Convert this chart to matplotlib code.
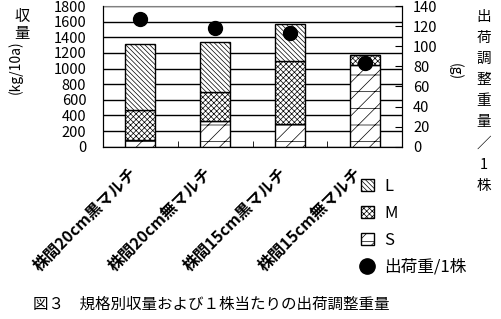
import matplotlib.pyplot as plt
from matplotlib.patches import Patch
from matplotlib.lines import Line2D

plt.rcParams['font.family'] = ['Noto Sans CJK JP', 'DejaVu Sans']
plt.rcParams['hatch.linewidth'] = 0.5

# data
categories = ['株間20cm黒マルチ', '株間20cm無マルチ', '株間15cm黒マルチ', '株間15cm無マルチ']
yield_S = [86, 325, 286, 1041]
yield_M = [384, 375, 806, 128]
yield_L = [840, 635, 474, 0]
weight_per_plant = [126.8, 118.4, 112.8, 83.0]

hatch_L = '\\\\\\\\\\\\\\'
hatch_M = 'xxxxxx'
hatch_S = '//-'

fig = plt.figure(figsize=(5.01, 3.19), dpi=100)
ax = fig.add_axes([0.2056, 0.540, 0.5968, 0.441])

x = list(range(len(categories)))
bottom_M = yield_S
bottom_L = [s + m for s, m in zip(yield_S, yield_M)]

common = dict(width=0.4, color='white', edgecolor='black', linewidth=1.0, zorder=3)
ax.bar(x, yield_S, hatch=hatch_S, **common)
ax.bar(x, yield_M, bottom=bottom_M, hatch=hatch_M, **common)
ax.bar(x, yield_L, bottom=bottom_L, hatch=hatch_L, **common)

ax.set_xlim(-0.5, 3.5)
ax.set_ylim(0, 1800)
ax.set_yticks(range(0, 1801, 200))
ax.yaxis.grid(True, color='black', linewidth=1.0, zorder=0)
ax.tick_params(axis='y', length=0, labelsize=10.5, pad=12)
ax.set_xticks(x)
ax.set_xticklabels(categories, rotation=45, ha='right', va='top', fontsize=11.5,
                   fontweight='bold')
ax.tick_params(axis='x', length=0, pad=13)
ax.set_xticks([0.5, 1.5, 2.5], minor=True)
ax.tick_params(axis='x', which='minor', direction='in', length=4)
ax.spines['top'].set_color('gray')

ax2 = ax.twinx()
ax2.scatter(x, weight_per_plant, s=100, color='black', zorder=5)
ax2.set_ylim(0, 140)
ax2.set_yticks(range(0, 141, 20))
ax2.tick_params(axis='y', direction='in', length=5, labelsize=10.5, pad=8)
ax2.spines['top'].set_visible(False)

# axis titles
fig.text(0.044, 0.975, '収\n量', ha='center', va='top', fontsize=11, linespacing=1.0)
fig.text(0.03, 0.79, '(kg/10a)', ha='center', va='center', rotation=90, fontsize=10)
fig.text(0.908, 0.775, '(g)', ha='center', va='center', rotation=270, fontsize=10)
fig.text(0.965, 0.97, '\n'.join('出荷調整重量／1株'), ha='center', va='top',
         fontsize=10.5, linespacing=1.65)

handles = [Patch(facecolor='white', edgecolor='black', hatch=hatch_L),
           Patch(facecolor='white', edgecolor='black', hatch=hatch_M),
           Patch(facecolor='white', edgecolor='black', hatch=hatch_S),
           Line2D([], [], marker='o', color='black', linestyle='none', markersize=11)]
fig.legend(handles, ['L', 'M', 'S', '出荷重/1株'], loc='upper left',
           bbox_to_anchor=(0.69, 0.49), frameon=False, fontsize=12,
           handlelength=0.8, handleheight=0.8, handletextpad=0.6, labelspacing=0.6)

fig.text(0.066, 0.045, '図３　規格別収量および１株当たりの出荷調整重量', fontsize=11.2,
         ha='left', va='center')

fig.savefig('out.png', dpi=100)
